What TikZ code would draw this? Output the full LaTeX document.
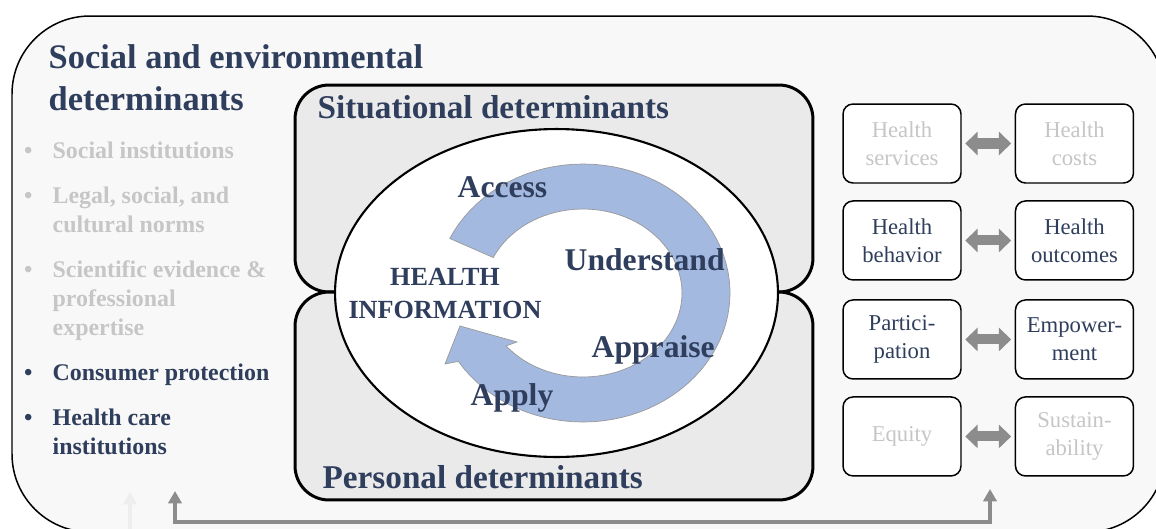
\documentclass[tikz,border=0pt]{standalone}
\usepackage{fontspec}
\setmainfont{Liberation Serif}
\usetikzlibrary{positioning,shapes.geometric,arrows.meta}

\definecolor{navytext}{RGB}{47,62,92}
\definecolor{fadetext}{RGB}{198,198,198}
\definecolor{panelgray}{RGB}{248,248,248}
\definecolor{detgray}{RGB}{234,234,234}
\definecolor{cycleblue}{RGB}{164,185,224}
\definecolor{linkgray}{RGB}{140,140,140}
\definecolor{faintgray}{RGB}{238,238,238}

\newcommand{\itembullet}{\llap{\textbullet\hspace{11.5pt}}}

\begin{document}
\begin{tikzpicture}[x=0.02cm, y=-0.02cm, node distance=3.45cm, thick,
  panel/.style={draw, line width=0.85pt, fill=panelgray},
  detbox/.style={draw, line width=1.7pt, rounded corners=0.68cm, fill=detgray, minimum width=10.36cm, inner sep=0pt},
  infocore/.style={ellipse, draw, line width=1.2pt, fill=white, minimum width=8.86cm, minimum height=6.56cm, inner sep=0pt},
  cyclearrow/.style={fill=cycleblue, draw=black!40, line width=0.4pt},
  outcome/.style={draw, line width=0.85pt, rounded corners=0.2cm, fill=white, minimum width=2.36cm, minimum height=1.58cm, inner sep=0pt, align=center, font=\fontsize{12.9}{15.9}\selectfont, text=navytext},
  faded/.style={text=fadetext},
  heading/.style={anchor=base west, align=left, text=navytext, font=\fontsize{19.6}{23.7}\selectfont\bfseries, inner sep=0pt},
  subheading/.style={heading, font=\fontsize{18.9}{22.7}\selectfont\bfseries},
  listitem/.style={anchor=base west, align=left, text=navytext, font=\fontsize{13.6}{16.4}\selectfont\bfseries, inner sep=0pt},
  stage/.style={anchor=base west, text=navytext, font=\fontsize{18}{21}\selectfont\bfseries, inner sep=0pt},
  link/.style={draw=linkgray, line width=5.7pt, {Triangle[length=7pt,width=13pt]}-{Triangle[length=7pt,width=13pt]}, shorten <=2pt, shorten >=2pt},
  feedback/.style={draw=linkgray, line width=2.3pt, {Triangle[length=7pt,width=7.5pt]}-{Triangle[length=7pt,width=7.5pt]}}
]
\useasboundingbox (0,0) rectangle (1156,528);
\clip (0,0) rectangle (1156,528);

% outer panel
\draw[panel, rounded corners=1.56cm] (12,16) rectangle (1165,532);

% left column (multi-line nodes sit on their last baseline)
\node[heading] (socialtitle) at (48,110) {Social and environmental\\determinants};
\node[listitem, faded] (institutions) at (52,158) {\itembullet Social institutions};
\node[listitem, faded] (norms) at (52,232) {\itembullet Legal, social, and\\cultural norms};
\node[listitem, faded] (evidence) at (52,335) {\itembullet Scientific evidence \&\\professional\\expertise};
\node[listitem] (protection) at (52,380) {\itembullet Consumer protection};
\node[listitem] (careinst) at (52,454) {\itembullet Health care\\institutions};

% determinants and health information
\node[detbox, minimum height=4.14cm] (situational) at (554,188.5) {};
\node[detbox, minimum height=4.16cm] (personal) at (554,396) {};
\node[infocore] (info) at (556.5,293) {};
\node[subheading] (sittitle) at (317,118) {Situational determinants};
\node[subheading] (perstitle) at (322,488) {Personal determinants};

\path[cyclearrow]
  plot[domain=-155:148, samples=80, variable=\t] ({583+147*cos(\t)}, {293+129*sin(\t)})
  -- (445,364) -- (460,326) -- (517,342)
  -- plot[domain=141:-155, samples=80, variable=\t] ({583+99*cos(\t)}, {293+84*sin(\t)})
  -- cycle;

\node[anchor=base, align=center, text=navytext, font=\fontsize{14.9}{18.7}\selectfont\bfseries, inner sep=0pt] (infolabel) at (445,318) {HEALTH\\INFORMATION};
\node[stage] (access) at (457,197) {Access};
\node[stage] (understand) at (564,270) {Understand};
\node[stage] (appraise) at (591,357) {Appraise};
\node[stage] (apply) at (470,405) {Apply};

% outcomes
\node[outcome, faded] (services) at (902,143.5) {Health\\services};
\node[outcome, faded] (costs) [right of=services] {Health\\costs};
\node[outcome] (behavior) [below of=services, node distance=1.94cm] {Health\\behavior};
\node[outcome] (outcomes) [right of=behavior] {Health\\outcomes};
\node[outcome] (participation) [below of=behavior, node distance=1.98cm] {Partici-\\pation};
\node[outcome] (empowerment) [right of=participation] {Empower-\\ment};
\node[outcome, faded] (equity) [below of=participation, node distance=1.94cm] {Equity};
\node[outcome, faded] (sustain) [right of=equity] {Sustain-\\ability};

\draw[link] (services) -- (costs);
\draw[link] (behavior) -- (outcomes);
\draw[link] (participation) -- (empowerment);
\draw[link] (equity) -- (sustain);

% feedback line
\coordinate (feedbase) at (0,522);
\coordinate (leftin) at (175,491);
\coordinate (rightin) at (990,489);
\coordinate (faintin) at (130,492);
\coordinate (faintfoot) at (130,540);
\draw[draw=faintgray, line width=2.3pt, -{Triangle[length=7pt,width=7.5pt]}] (faintfoot) -- (faintin);
\draw[feedback] (leftin) -- (leftin |- feedbase) -- (rightin |- feedbase) -- (rightin);
\end{tikzpicture}
\end{document}
